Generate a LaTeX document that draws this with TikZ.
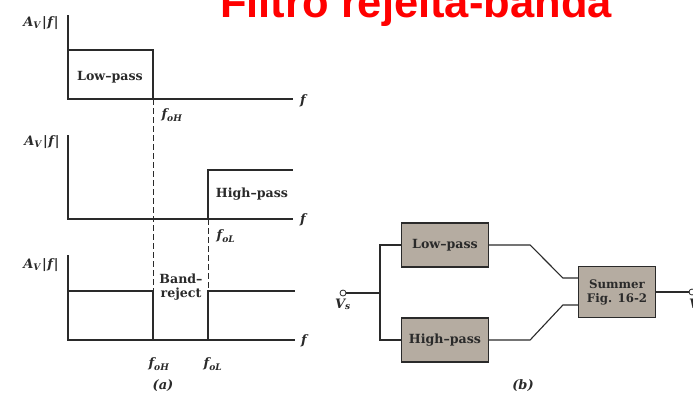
\documentclass[tikz,border=0pt]{standalone}
\usepackage{fontspec}
\setmainfont{DejaVu Serif}
\newfontfamily\titlefont{Liberation Sans}
\usetikzlibrary{positioning, calc}
\usepackage{xcolor}
\definecolor{TitleRed}{HTML}{FF0000}
\definecolor{ScanInk}{HTML}{2A2A2A}
\definecolor{BlockFill}{HTML}{B5ACA1}
\newcommand{\gainlabel}{\bfseries\itshape A\textsubscript{V}\kern1pt|\kern0.5pt f\kern1pt|}
\tikzset{
    % Plot styles
    axis/.style={
        draw=ScanInk,
        line width=1.3pt
    },
    response/.style={
        draw=ScanInk,
        line width=2.2pt
    },
    guide/.style={
        draw=ScanInk,
        dash pattern=on 6pt off 3pt,
        line width=1pt
    },
    plottext/.style={
        text=ScanInk,
        font=\fontsize{12.6}{14}\selectfont\bfseries,
        align=center,
        inner sep=1pt
    },
    mathtext/.style={
        text=ScanInk,
        font=\fontsize{13}{14}\selectfont\bfseries\itshape,
        inner sep=1pt
    },
    % Block diagram styles
    block/.style={
        rectangle,
        draw=ScanInk,
        fill=BlockFill,
        line width=1.2pt,
        minimum width=87pt,
        minimum height=44pt,
        align=center,
        text=ScanInk,
        font=\fontsize{12.6}{14}\selectfont\bfseries
    },
    wire/.style={
        draw=ScanInk,
        line width=1.1pt
    },
    terminal/.style={
        circle,
        draw=ScanInk,
        fill=white,
        line width=0.8pt,
        inner sep=0pt,
        minimum size=6pt
    }
}
\begin{document}
\begin{tikzpicture}[x=1pt, y=-1pt]
    \useasboundingbox (0,0) rectangle (693,394);

    \node[anchor=base, text=TitleRed, font=\titlefont\bfseries\fontsize{43.5}{44}\selectfont] (title) at (416,17) {Filtro rejeita-banda};

    % (a) low-pass response
    \draw[axis] (68,15) -- (68,99) -- (293,99);
    \draw[response] (68,50) -- (153,50) -- (153,99);
    \node[mathtext] (gainA) at (41,23) {\gainlabel};
    \node[plottext] (lowtxt) at (110,77) {Low--pass};
    \node[mathtext] (fA) at (303,101) {f};
    \node[mathtext] (fohA) at (172,115) {f\textsubscript{oH}};

    % (a) high-pass response
    \draw[axis] (68,135) -- (68,219) -- (293,219);
    \draw[response] (208,219) -- (208,170) -- (293,170);
    \node[mathtext] (gainB) at (42,142) {\gainlabel};
    \node[plottext] (hightxt) at (252,194) {High--pass};
    \node[mathtext] (fB) at (303,220) {f};
    \node[mathtext] (folB) at (226,236) {f\textsubscript{oL}};

    % (a) band-reject response
    \draw[axis] (68,255) -- (68,340) -- (295,340);
    \draw[response] (68,291) -- (153,291) -- (153,340);
    \draw[response] (208,340) -- (208,291) -- (295,291);
    \node[mathtext] (gainC) at (41,265) {\gainlabel};
    \node[plottext] (bandtxt) at (181,287) {Band--\\reject};
    \node[mathtext] (fC) at (304,341) {f};
    \node[mathtext] (fohC) at (159,364) {f\textsubscript{oH}};
    \node[mathtext] (folC) at (213,364) {f\textsubscript{oL}};

    \draw[guide] (153,99) -- (153,340);
    \draw[guide] (208,219) -- (208,340);

    \node[mathtext] (capa) at (163,386) {(a)};

    % (b) block diagram
    \node[terminal] (vs) at (343,293) {};
    \node[mathtext, below=1pt of vs] (vslabel) {V\textsubscript{s}};
    \coordinate (split) at (380,293);
    \node[block] (low) at (445,245) {Low--pass};
    \node[block] (high) at (445,340) {High--pass};
    \node[block, minimum width=77pt, minimum height=51pt, font=\fontsize{11.8}{14}\selectfont\bfseries] (sum) at (617,292) {Summer\\Fig. 16-2};
    \node[terminal] (vo) at (692,292) {};
    \node[mathtext, anchor=north west] (volabel) at (688,298) {V\textsubscript{o}};

    \draw[wire] (vs) -- (split);
    \draw[wire] (split) |- (low.west);
    \draw[wire] (split) |- (high.west);
    \draw[wire] (low.east) -- ++(41,0) -- ($(sum.west)+(-15,-14)$) -- ($(sum.west)+(0,-14)$);
    \draw[wire] (high.east) -- ++(41,0) -- ($(sum.west)+(-15,13)$) -- ($(sum.west)+(0,13)$);
    \draw[wire] (sum.east) -- (vo);

    \node[mathtext] (capb) at (523,386) {(b)};
\end{tikzpicture}
\end{document}
